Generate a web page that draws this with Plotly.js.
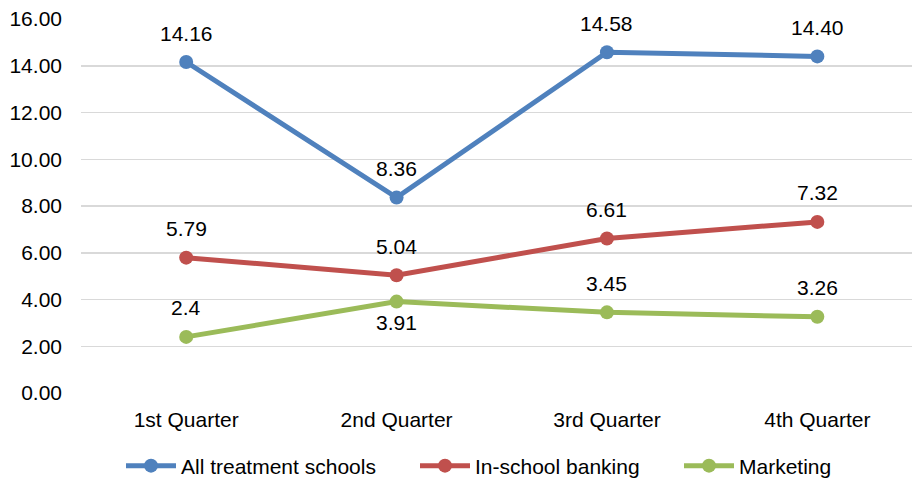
<!DOCTYPE html>
<html>
<head>
<meta charset="utf-8">
<script src="https://cdn.plot.ly/plotly-3.0.1.min.js"></script>
<style>html,body{margin:0;padding:0;background:#fff;}#chart{width:912px;height:478px;}</style>
</head>
<body>
<div id="chart"></div>
<script>
const categories = ["1st Quarter", "2nd Quarter", "3rd Quarter", "4th Quarter"];
const allTreatment = [14.16, 8.36, 14.58, 14.40];
const inSchoolBanking = [5.79, 5.04, 6.61, 7.32];
const marketing = [2.4, 3.91, 3.45, 3.26];
const allTreatmentLabels = ["14.16", "8.36", "14.58", "14.40"];
const inSchoolBankingLabels = ["5.79", "5.04", "6.61", "7.32"];
const marketingLabels = ["2.4", "3.91", "3.45", "3.26"];
const marketingLabelBelow = [false, true, false, false];
const yTickVals = [0, 2, 4, 6, 8, 10, 12, 14, 16];
const yTickText = ["0.00", "2.00", "4.00", "6.00", "8.00", "10.00", "12.00", "14.00", "16.00"];

const FONT = "Liberation Sans, Arial, sans-serif";
const FS = 21;
const series = [
  {name: "All treatment schools", y: allTreatment, labels: allTreatmentLabels, color: "#4F81BD", below: [false,false,false,false], legend: "legend", lx: 121},
  {name: "In-school banking", y: inSchoolBanking, labels: inSchoolBankingLabels, color: "#C0504D", below: [false,false,false,false], legend: "legend2", lx: 415},
  {name: "Marketing", y: marketing, labels: marketingLabels, color: "#9BBB59", below: marketingLabelBelow, legend: "legend3", lx: 679}
];

const traces = series.map(s => ({
  type: "scatter", mode: "lines+markers", name: s.name, legend: s.legend,
  x: categories, y: s.y,
  line: {color: s.color, width: 5},
  marker: {color: s.color, size: 14},
  hoverinfo: "skip"
}));

const annotations = [];
series.forEach(s => {
  s.y.forEach((v, i) => {
    annotations.push({
      x: categories[i], y: v, xref: "x", yref: "y",
      text: s.labels[i], showarrow: false,
      yshift: s.below[i] ? -21 : 29,
      font: {family: FONT, size: FS, color: "#000"}
    });
  });
});

function legendAt(px) {
  return {orientation: "h", xref: "container", yref: "container", x: px / 912, xanchor: "left",
          y: 12 / 478, yanchor: "middle", bgcolor: "rgba(0,0,0,0)", itemwidth: 50,
          font: {family: FONT, size: FS, color: "#000"}};
}

const layout = {
  width: 912, height: 478,
  margin: {l: 81, r: 0, t: 19, b: 85, pad: 0},
  paper_bgcolor: "#fff", plot_bgcolor: "#fff",
  font: {family: FONT, size: FS, color: "#000"},
  showlegend: true,
  legend: legendAt(series[0].lx),
  legend2: legendAt(series[1].lx),
  legend3: legendAt(series[2].lx),
  xaxis: {type: "category", range: [-0.5, 3.45], showgrid: false, zeroline: false, showline: false,
          ticks: "", tickfont: {family: FONT, size: FS}, ticklabelstandoff: 12, automargin: false},
  yaxis: {range: [0, 16], tickvals: yTickVals, ticktext: yTickText, showgrid: true, gridcolor: "#D9D9D9",
          gridwidth: 1.5, zeroline: false, showline: false, ticks: "", tickfont: {family: FONT, size: FS},
          ticklabelstandoff: 18, automargin: false},
  annotations: annotations
};

Plotly.newPlot("chart", traces, layout, {displayModeBar: false, staticPlot: true});
</script>
</body>
</html>
